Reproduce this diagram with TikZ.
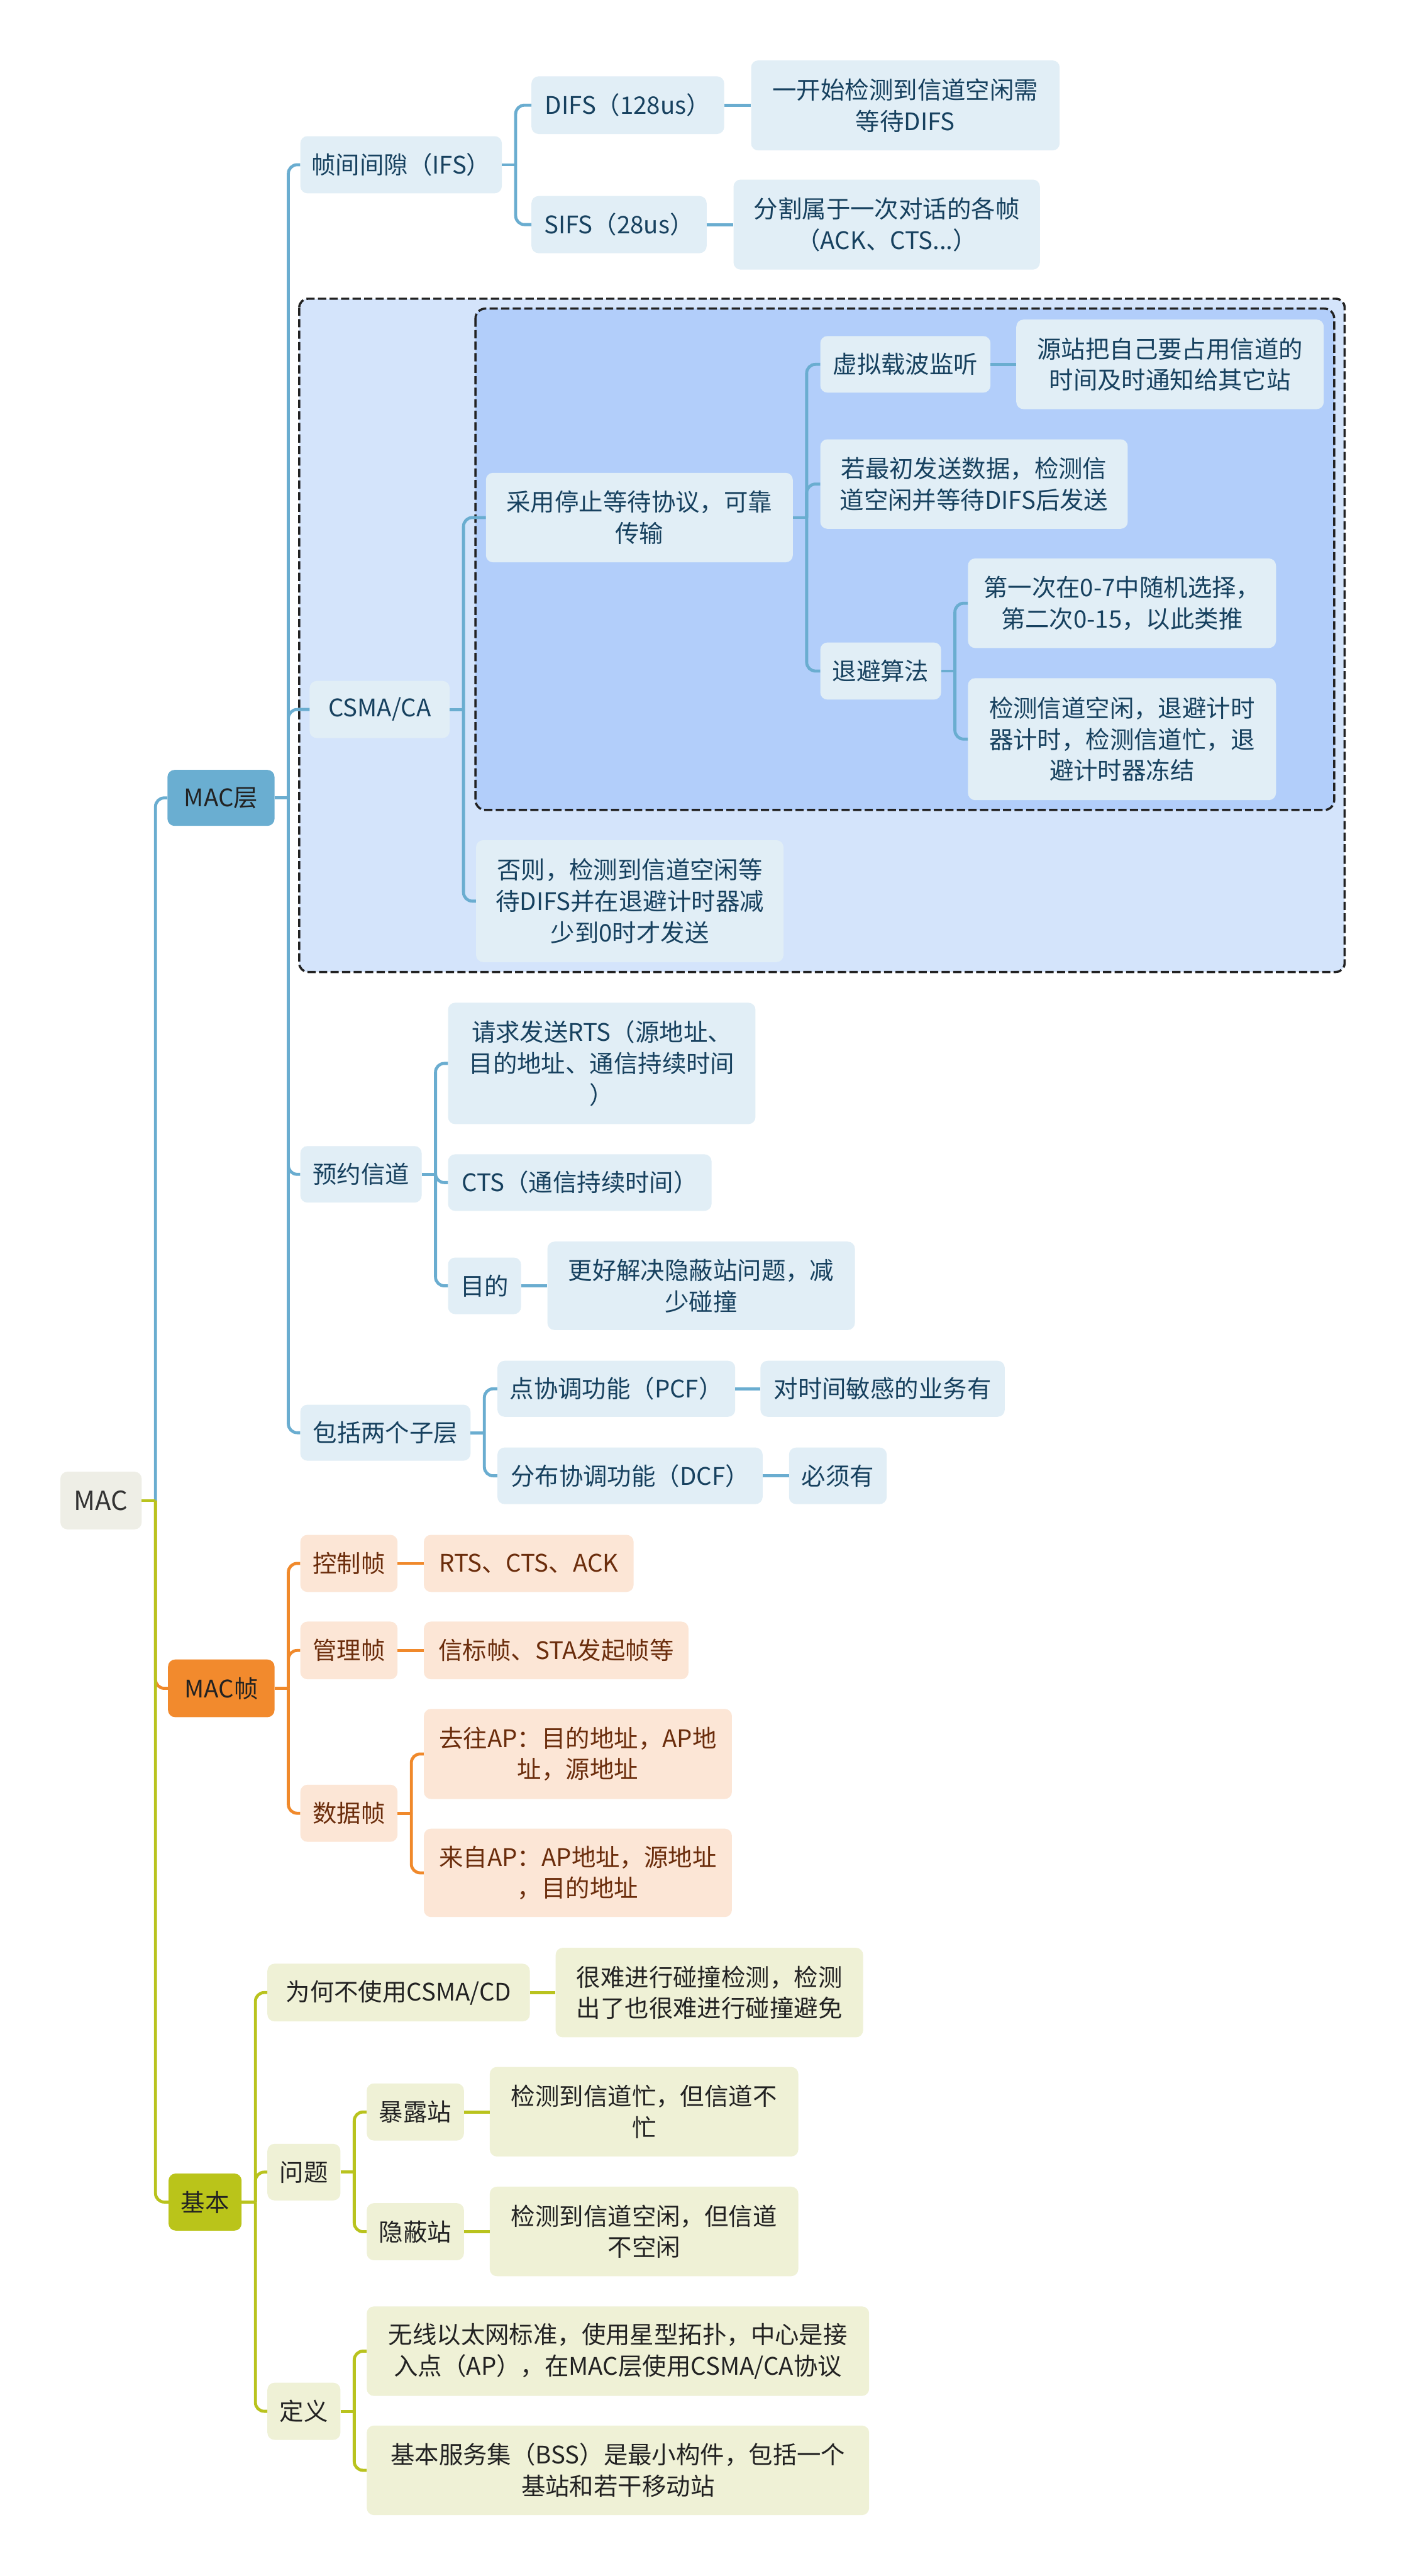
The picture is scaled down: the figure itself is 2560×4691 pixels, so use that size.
\documentclass[tikz,border=0pt]{standalone}
\usepackage{fontspec}
\setmainfont{Noto Sans CJK SC}
\definecolor{bfill}{HTML}{E1EEF6}
\definecolor{btext}{HTML}{17415F}
\definecolor{bline}{HTML}{6AADD0}
\definecolor{bmain}{HTML}{6AAED1}
\definecolor{outerfill}{HTML}{D4E4FB}
\definecolor{innerfill}{HTML}{B2CEFA}
\definecolor{ofill}{HTML}{FCE6D6}
\definecolor{otext}{HTML}{6B2D0C}
\definecolor{oline}{HTML}{F0892B}
\definecolor{omain}{HTML}{F28A2D}
\definecolor{gfill}{HTML}{EFF1D6}
\definecolor{gtext}{HTML}{222222}
\definecolor{gline}{HTML}{B9C31E}
\definecolor{gmain}{HTML}{BAC41A}
\definecolor{rfill}{HTML}{EEEEE6}
\definecolor{rtext}{HTML}{333333}
\definecolor{dashcol}{HTML}{222222}
\tikzset{
  base/.style={rounded corners=13, inner sep=0pt, align=center, font=\fontsize{44}{57}\selectfont},
  rootbox/.style={base, fill=rfill, text=rtext, font=\fontsize{48}{60}\selectfont},
  bmainbox/.style={base, fill=bmain, text=gtext},
  omainbox/.style={base, fill=omain, text=gtext},
  gmainbox/.style={base, fill=gmain, text=gtext},
  bbox/.style={base, fill=bfill, text=btext},
  obox/.style={base, fill=ofill, text=otext},
  gbox/.style={base, fill=gfill, text=gtext},
  bl/.style={draw=bline, line width=5.5pt},
  ol/.style={draw=oline, line width=5.5pt},
  gl/.style={draw=gline, line width=5.5pt},
  dashbox/.style={draw=dashcol, line width=4pt, dash pattern=on 15pt off 6pt},
}
\newcommand{\boxnode}[7]{\node[#2, minimum width={#5-#3}, minimum height={#6-#4}] (#1) at ({(#3+#5)/2},{(#4+#6)/2}) {#7};}
\newcommand{\kids}[3]{\draw[#1] (#2.east) -- ++(25,0);
  \foreach \c in {#3}{\draw[#1, rounded corners=16] (#2.east) ++(25,0) |- (\c.west);}}
\newcommand{\link}[3]{\draw[#1] (#2.east) -- (#2.east -| #3.west);}
\begin{document}
\begin{tikzpicture}[x=1pt, y=-1pt]
\fill[white] (0,0) rectangle (2560,4691);
\useasboundingbox (0,0) rectangle (2560,4691);
% dashed containers
\draw[dashbox, fill=outerfill, rounded corners=16] (545,544) rectangle (2449,1770);
\draw[dashbox, fill=innerfill, rounded corners=18] (866,562) rectangle (2430,1475);
% root
\boxnode{mac}{rootbox}{110}{2680}{258}{2785}{MAC}
% blue branch
\boxnode{maclayer}{bmainbox}{305}{1402}{500}{1504}{MAC层}
\boxnode{ifs}{bbox}{547}{248}{914}{352}{帧间间隙（IFS）}
\boxnode{difs}{bbox}{968}{139}{1319}{244}{DIFS（128us）}
\boxnode{difsd}{bbox}{1368}{110}{1930}{274}{一开始检测到信道空闲需\\等待DIFS}
\boxnode{sifs}{bbox}{968}{357}{1287}{461}{SIFS（28us）}
\boxnode{sifsd}{bbox}{1336}{327}{1894}{491}{分割属于一次对话的各帧\\（ACK、CTS...）}
\boxnode{csma}{bbox}{564}{1240}{819}{1344}{CSMA/CA}
\boxnode{stop}{bbox}{885}{861}{1444}{1024}{采用停止等待协议，可靠\\传输}
\boxnode{vcs}{bbox}{1494}{612}{1804}{715}{虚拟载波监听}
\boxnode{vcsd}{bbox}{1851}{582}{2411}{745}{源站把自己要占用信道的\\时间及时通知给其它站}
\boxnode{init}{bbox}{1494}{800}{2054}{963}{若最初发送数据，检测信\\道空闲并等待DIFS后发送}
\boxnode{backoff}{bbox}{1494}{1170}{1714}{1274}{退避算法}
\boxnode{boa}{bbox}{1763}{1017}{2324}{1180}{第一次在0-7中随机选择，\\第二次0-15，以此类推}
\boxnode{bob}{bbox}{1763}{1235}{2324}{1457}{检测信道空闲，退避计时\\器计时，检测信道忙，退\\避计时器冻结}
\boxnode{other}{bbox}{867}{1530}{1427}{1752}{否则，检测到信道空闲等\\待DIFS并在退避计时器减\\少到0时才发送}
\boxnode{resv}{bbox}{547}{2087}{768}{2190}{预约信道}
\boxnode{rts}{bbox}{816}{1826}{1376}{2047}{请求发送RTS（源地址、\\目的地址、通信持续时间\\）}
\boxnode{cts}{bbox}{816}{2102}{1296}{2205}{CTS（通信持续时间）}
\boxnode{goal}{bbox}{816}{2290}{949}{2393}{目的}
\boxnode{goald}{bbox}{997}{2261}{1557}{2422}{更好解决隐蔽站问题，减\\少碰撞}
\boxnode{sub}{bbox}{547}{2558}{857}{2660}{包括两个子层}
\boxnode{pcf}{bbox}{906}{2478}{1339}{2580}{点协调功能（PCF）}
\boxnode{pcfd}{bbox}{1385}{2478}{1830}{2580}{对时间敏感的业务有}
\boxnode{dcf}{bbox}{906}{2636}{1389}{2739}{分布协调功能（DCF）}
\boxnode{dcfd}{bbox}{1437}{2636}{1615}{2739}{必须有}
% orange branch
\boxnode{macframe}{omainbox}{306}{3022}{500}{3127}{MAC帧}
\boxnode{ctrl}{obox}{547}{2795}{724}{2899}{控制帧}
\boxnode{ctrld}{obox}{772}{2795}{1154}{2899}{RTS、CTS、ACK}
\boxnode{mgmt}{obox}{547}{2953}{724}{3058}{管理帧}
\boxnode{mgmtd}{obox}{772}{2953}{1254}{3058}{信标帧、STA发起帧等}
\boxnode{data}{obox}{547}{3250}{724}{3354}{数据帧}
\boxnode{dataa}{obox}{772}{3112}{1333}{3276}{去往AP：目的地址，AP地\\址，源地址}
\boxnode{datab}{obox}{772}{3330}{1333}{3491}{来自AP：AP地址，源地址\\，目的地址}
% green branch
\boxnode{basic}{gmainbox}{307}{3958}{440}{4062}{基本}
\boxnode{why}{gbox}{487}{3576}{965}{3681}{为何不使用CSMA/CD}
\boxnode{whyd}{gbox}{1012}{3547}{1572}{3710}{很难进行碰撞检测，检测\\出了也很难进行碰撞避免}
\boxnode{prob}{gbox}{487}{3904}{620}{4007}{问题}
\boxnode{expo}{gbox}{668}{3794}{845}{3898}{暴露站}
\boxnode{expod}{gbox}{892}{3764}{1454}{3927}{检测到信道忙，但信道不\\忙}
\boxnode{hidden}{gbox}{668}{4012}{845}{4116}{隐蔽站}
\boxnode{hiddend}{gbox}{892}{3982}{1454}{4145}{检测到信道空闲，但信道\\不空闲}
\boxnode{defn}{gbox}{487}{4339}{620}{4443}{定义}
\boxnode{defa}{gbox}{668}{4200}{1583}{4363}{无线以太网标准，使用星型拓扑，中心是接\\入点（AP），在MAC层使用CSMA/CA协议}
\boxnode{defb}{gbox}{668}{4417}{1583}{4580}{基本服务集（BSS）是最小构件，包括一个\\基站和若干移动站}
% connectors: blue
\kids{bl}{maclayer}{ifs,csma,resv,sub}
\kids{bl}{ifs}{difs,sifs}
\link{bl}{difs}{difsd}
\link{bl}{sifs}{sifsd}
\kids{bl}{csma}{stop,other}
\kids{bl}{stop}{vcs,init,backoff}
\link{bl}{vcs}{vcsd}
\kids{bl}{backoff}{boa,bob}
\kids{bl}{resv}{rts,cts,goal}
\link{bl}{goal}{goald}
\kids{bl}{sub}{pcf,dcf}
\link{bl}{pcf}{pcfd}
\link{bl}{dcf}{dcfd}
% connectors: orange
\kids{ol}{macframe}{ctrl,mgmt,data}
\link{ol}{ctrl}{ctrld}
\link{ol}{mgmt}{mgmtd}
\kids{ol}{data}{dataa,datab}
% connectors: green
\kids{gl}{basic}{why,prob,defn}
\link{gl}{why}{whyd}
\kids{gl}{prob}{expo,hidden}
\link{gl}{expo}{expod}
\link{gl}{hidden}{hiddend}
\kids{gl}{defn}{defa,defb}
% root connectors
\draw[bl, rounded corners=16] (mac.east) ++(25,0) |- (maclayer.west);
\draw[ol, rounded corners=16] (mac.east) ++(25,0) |- (macframe.west);
\draw[gl, rounded corners=16] (mac.east) ++(25,0) |- (basic.west);
\draw[gl] (mac.east) -- ++(25,0);
\end{tikzpicture}
\end{document}
